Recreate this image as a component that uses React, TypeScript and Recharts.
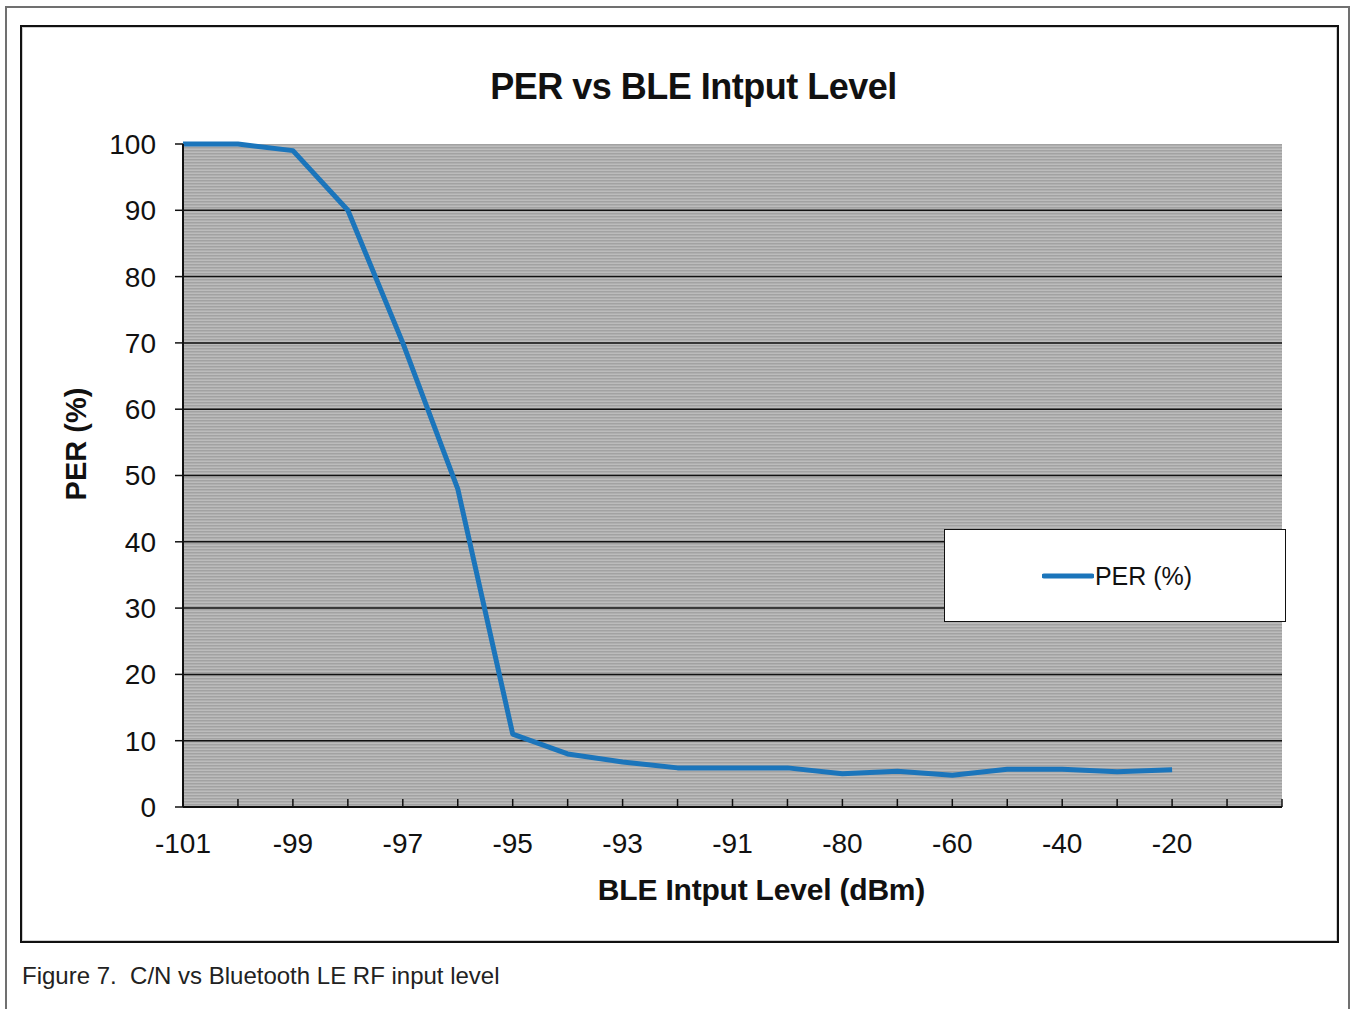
import React from 'react';
import { LineChart, Line, XAxis, YAxis, CartesianGrid, Legend } from 'recharts';

// ---- data ----
const categories = ['-101', '-100', '-99', '-98', '-97', '-96', '-95', '-94', '-93', '-92', '-91', '-90', '-80', '-70', '-60', '-50', '-40', '-30', '-20', '', ' '];
const perValues = [100, 100, 99, 90, 70, 48, 11, 8, 6.8, 5.9, 5.9, 5.9, 5.0, 5.4, 4.8, 5.7, 5.7, 5.3, 5.6, null, null];
const xTickLabels = ['-101', '-99', '-97', '-95', '-93', '-91', '-80', '-60', '-40', '-20'];
const yTicks = [0, 10, 20, 30, 40, 50, 60, 70, 80, 90, 100];
const gridValues = [10, 20, 30, 40, 50, 60, 70, 80, 90];

const chartTitle = 'PER vs BLE Intput Level';
const xAxisTitle = 'BLE Intput Level (dBm)';
const yAxisTitle = 'PER (%)';
const seriesName = 'PER (%)';
const caption = 'Figure 7.  C/N vs Bluetooth LE RF input level';

const data = categories.map((level, i) => ({ level, per: perValues[i] }));

const FONT = '"Liberation Sans", Arial, Helvetica, sans-serif';

const XTick = (props: any) => {
  const { x, y, payload } = props;
  const v = payload && payload.value;
  if (!xTickLabels.includes(v)) return null;
  return (
    <text x={x} y={y} dy="0.71em" textAnchor="middle" fontSize={28} fill="#111" fontFamily={FONT}>
      {v}
    </text>
  );
};

const renderLegend = (props: any) => {
  const items = (props && props.payload) || [];
  return (
    <div
      style={{
        width: '100%',
        height: '100%',
        boxSizing: 'border-box',
        border: '1.5px solid #111',
        background: '#fff',
        display: 'flex',
        alignItems: 'center',
        justifyContent: 'center',
        fontFamily: FONT,
      }}
    >
      {items.map((it: any, i: number) => (
        <div key={i} style={{ display: 'flex', alignItems: 'center', marginLeft: 4 }}>
          <svg width={52} height={8} style={{ display: 'block' }}>
            <line x1={2} x2={50} y1={4} y2={4} stroke={it.color} strokeWidth={5} strokeLinecap="round" />
          </svg>
          <span style={{ fontSize: 25, color: '#111', marginLeft: 1, lineHeight: '28px' }}>{it.value}</span>
        </div>
      ))}
    </div>
  );
};

export default function App() {
  return (
    <div style={{ position: 'absolute', left: 0, top: 0, width: 1353, height: 1009, background: '#fff', overflow: 'hidden', fontFamily: FONT }}>
      {/* outer page frame */}
      <div
        style={{
          position: 'absolute',
          left: 5,
          top: 6,
          width: 1345,
          height: 1020,
          boxSizing: 'border-box',
          border: '2px solid #707070',
        }}
      />
      {/* chart frame */}
      <div
        style={{
          position: 'absolute',
          left: 20,
          top: 25,
          width: 1319,
          height: 918,
          boxSizing: 'border-box',
          border: '2px solid #111',
          boxShadow: 'inset 0 0 0 1px #cfcfcf',
          background: '#fff',
        }}
      />
      <div style={{ position: 'absolute', left: 0, top: 0 }}>
        <LineChart width={1353} height={1009} data={data} margin={{ top: 144, right: 71, bottom: 142, left: 83 }}>
          <defs>
            <pattern id="stripes" x="0" y="0" width="6" height="3" patternUnits="userSpaceOnUse">
              <rect x="0" y="0" width="6" height="3" fill="#bcbcbc" />
              <rect x="0" y="0" width="6" height="1.5" fill="#a2a2a2" />
            </pattern>
          </defs>
          <CartesianGrid
            vertical={false}
            horizontalValues={gridValues}
            stroke="#111"
            strokeWidth={1.5}
            strokeOpacity={1}
            fill="url(#stripes)"
            fillOpacity={1}
          />
          <XAxis
            dataKey="level"
            interval={0}
            height={60}
            tickSize={-8}
            tickMargin={34}
            tick={XTick}
            axisLine={{ stroke: '#111', strokeWidth: 2 }}
            tickLine={{ stroke: '#111', strokeWidth: 1.5 }}
          />
          <YAxis
            width={100}
            type="number"
            domain={[0, 100]}
            ticks={yTicks}
            interval={0}
            tickSize={8}
            tickMargin={19}
            tick={{ fontSize: 28, fill: '#111', fontFamily: FONT }}
            axisLine={{ stroke: '#111', strokeWidth: 2 }}
            tickLine={{ stroke: '#111', strokeWidth: 1.5 }}
          />
          <Line
            type="linear"
            dataKey="per"
            name={seriesName}
            stroke="#1b75bb"
            strokeWidth={5}
            dot={false}
            activeDot={false}
            isAnimationActive={false}
            strokeLinejoin="round"
          />
          <Legend
            layout="horizontal"
            verticalAlign="middle"
            align="center"
            content={renderLegend}
            wrapperStyle={{ left: 944, top: 529, width: 342, height: 93 }}
          />
          <text x={693.5} y={99} textAnchor="middle" fontSize={36} fontWeight="bold" fill="#111" fontFamily={FONT} letterSpacing={-0.5}>
            {chartTitle}
          </text>
          <text x={761.5} y={900} textAnchor="middle" fontSize={30} fontWeight="bold" fill="#111" fontFamily={FONT} letterSpacing={-0.2}>
            {xAxisTitle}
          </text>
          <text
            x={86}
            y={444}
            textAnchor="middle"
            fontSize={29}
            fontWeight="bold"
            fill="#111"
            fontFamily={FONT}
            transform="rotate(-90, 86, 444)"
          >
            {yAxisTitle}
          </text>
        </LineChart>
      </div>
      <div
        style={{
          position: 'absolute',
          left: 22,
          top: 963,
          fontSize: 24,
          lineHeight: '26px',
          color: '#222',
          whiteSpace: 'pre',
          fontFamily: FONT,
        }}
      >
        {caption}
      </div>
    </div>
  );
}
